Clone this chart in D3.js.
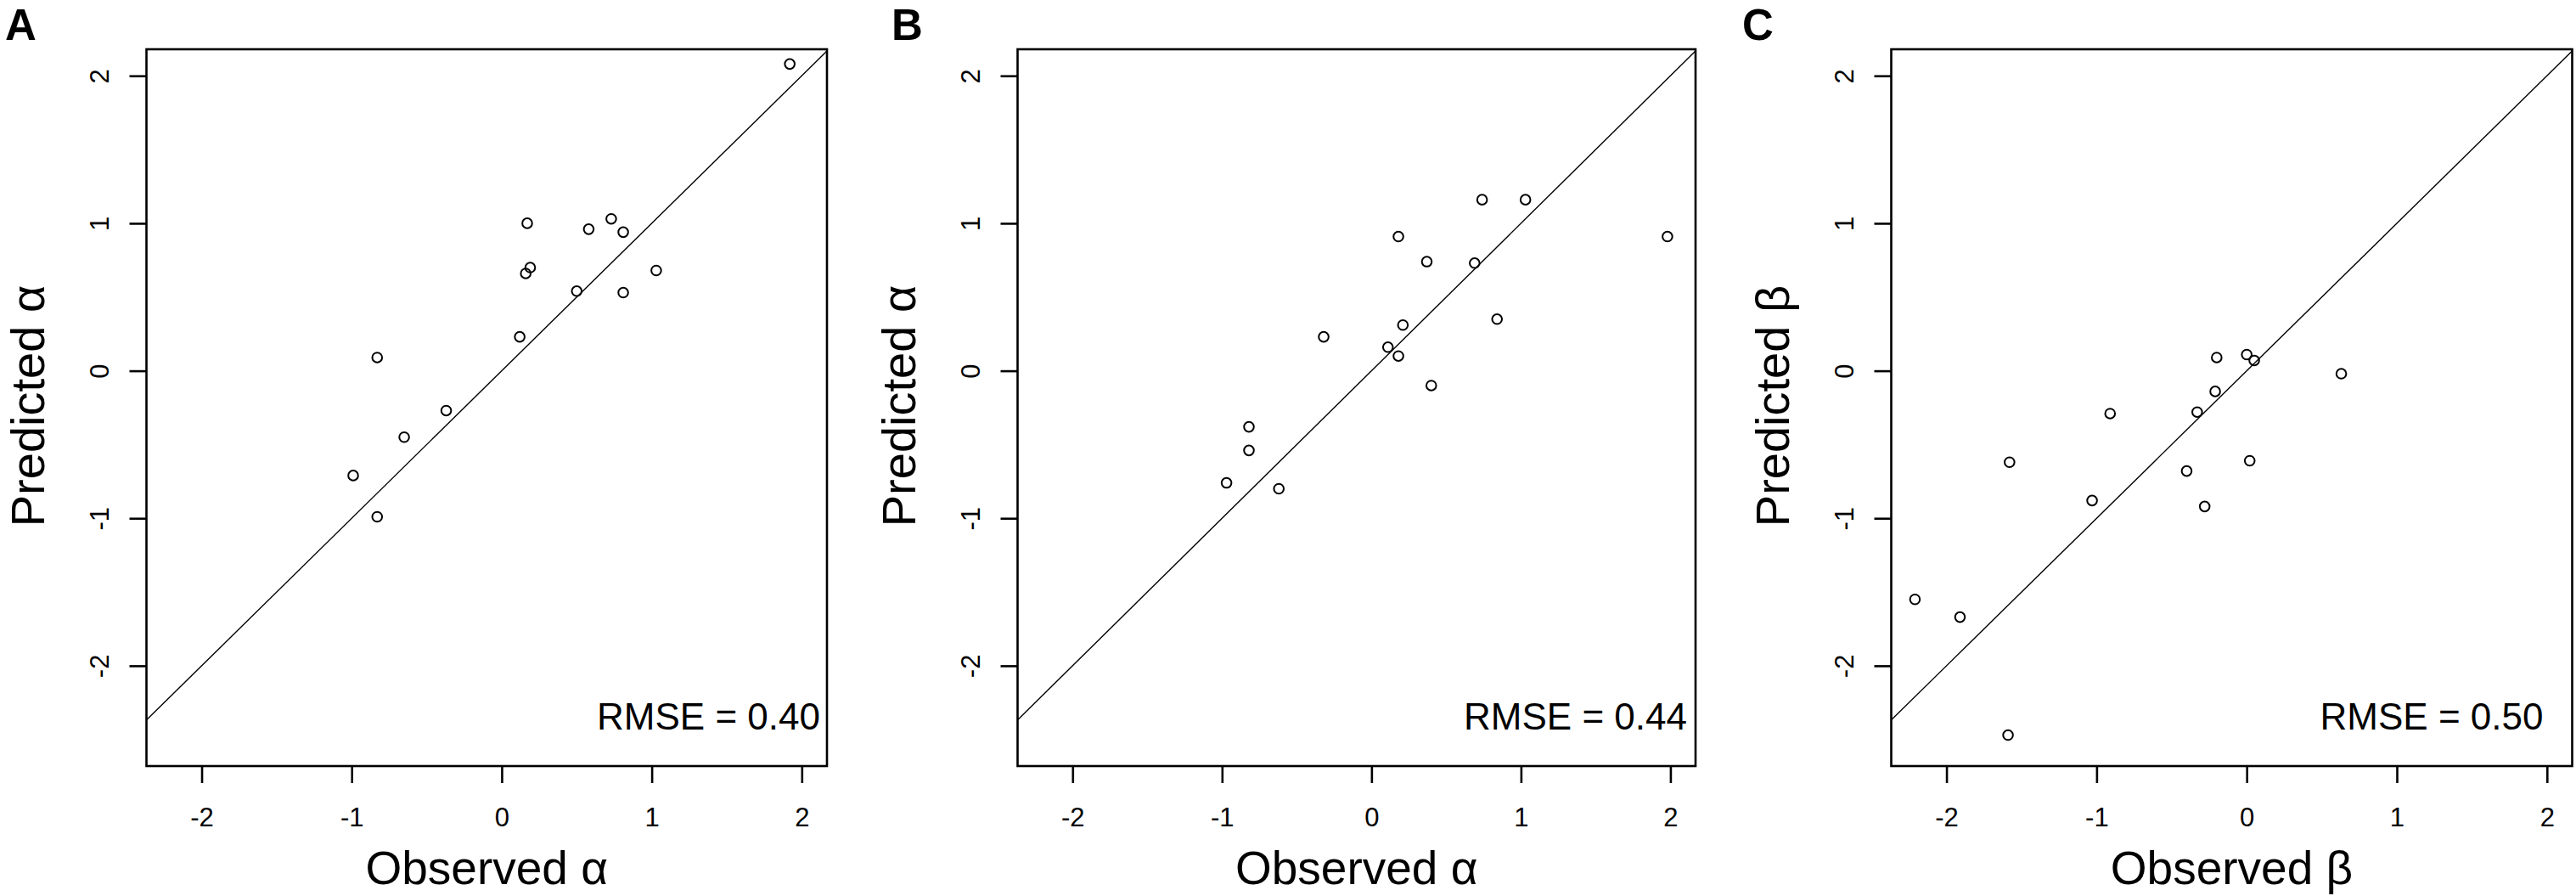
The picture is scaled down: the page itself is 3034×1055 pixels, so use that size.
<!DOCTYPE html>
<html><head><meta charset="utf-8">
<script src="https://cdn.jsdelivr.net/npm/d3@7"></script>
<style>html,body{margin:0;padding:0;background:#fff;} svg{display:block;}</style>
</head><body>
<svg id="chart" width="3034" height="1055"></svg>
<script>
// ---- data ----
const panelLabels = ["A", "B", "C"];
const xTitles = ["Observed α", "Observed α", "Observed β"];
const yTitles = ["Predicted α", "Predicted α", "Predicted β"];
const rmseLabels = ["RMSE = 0.40", "RMSE = 0.44", "RMSE = 0.50"];

const obsA  = [1.92, 0.17, 0.58, 0.73, 0.81, 0.16, 0.19, 1.03, 0.50, 0.81, 0.12, -0.83, -0.37, -0.65, -0.99, -0.83];
const predA = [2.08, 1.00, 0.96, 1.03, 0.94, 0.66, 0.70, 0.68, 0.54, 0.53, 0.23, 0.09, -0.27, -0.45, -0.71, -0.99];

const obsB  = [0.74, 1.03, 0.18, 1.98, 0.37, 0.69, 0.21, 0.84, -0.32, 0.11, 0.18, 0.40, -0.82, -0.82, -0.97, -0.62];
const predB = [1.16, 1.16, 0.91, 0.91, 0.74, 0.73, 0.31, 0.35, 0.23, 0.16, 0.10, -0.10, -0.38, -0.54, -0.76, -0.80];

const obsC  = [-0.20, 0.00, 0.05, 0.63, -0.21, -0.33, -0.91, -1.58, 0.02, -0.40, -1.03, -0.28, -2.21, -1.91, -1.59];
const predC = [0.09, 0.11, 0.07, -0.02, -0.14, -0.28, -0.29, -0.62, -0.61, -0.68, -0.88, -0.92, -1.55, -1.67, -2.47];

const xTicks = [-2, -1, 0, 1, 2];
const yTicks = [-2, -1, 0, 1, 2];
const xLimits = [-2.2, 2];
const yLimits = [-2.5, 2];

// ---- layout ----
const FONT = "'Liberation Sans', Arial, Helvetica, sans-serif";
const plotTop = 58, plotBottom = 902;
const layout = [
  { left: 172.5, right: 974,   labelX: 6,    rmseInset: 8 },
  { left: 1198.5, right: 1997, labelX: 1050, rmseInset: 10 },
  { left: 2227.5, right: 3029.5, labelX: 2052, rmseInset: 34 }
];
const seriesObs = [obsA, obsB, obsC];
const seriesPred = [predA, predB, predC];

// R style 4% axis extension
function extend(lim) { const d = (lim[1] - lim[0]) * 0.04; return [lim[0] - d, lim[1] + d]; }
const xDom = extend(xLimits), yDom = extend(yLimits);

const svg = d3.select("#chart");
svg.append("rect").attr("width", 3034).attr("height", 1055).attr("fill", "#fff");

layout.forEach((L, i) => {
  const x = d3.scaleLinear().domain(xDom).range([L.left, L.right]);
  const y = d3.scaleLinear().domain(yDom).range([plotBottom, plotTop]);
  const g = svg.append("g");

  // diagonal y = x, clipped to the plot region
  const t0 = Math.max(xDom[0], yDom[0]), t1 = Math.min(xDom[1], yDom[1]);
  g.append("line")
    .attr("x1", x(t0)).attr("y1", y(t0)).attr("x2", x(t1)).attr("y2", y(t1))
    .attr("stroke", "#000").attr("stroke-width", 1.4);

  // points
  const pts = seriesObs[i].map((o, k) => ({ o, p: seriesPred[i][k] }));
  g.selectAll("circle.pt").data(pts).enter().append("circle")
    .attr("class", "pt")
    .attr("cx", d => x(d.o)).attr("cy", d => y(d.p)).attr("r", 5.8)
    .attr("fill", "none").attr("stroke", "#000").attr("stroke-width", 2);

  // frame
  g.append("rect")
    .attr("x", L.left).attr("y", plotTop)
    .attr("width", L.right - L.left).attr("height", plotBottom - plotTop)
    .attr("fill", "none").attr("stroke", "#000").attr("stroke-width", 2.6);

  // x axis
  const xAxis = d3.axisBottom(x).tickValues(xTicks).tickSize(20).tickPadding(0).tickFormat(d3.format("d"));
  const gx = g.append("g").attr("transform", `translate(0,${plotBottom})`).call(xAxis);
  gx.select(".domain").remove();
  gx.selectAll(".tick line").attr("stroke", "#000").attr("stroke-width", 2.6);
  gx.selectAll(".tick text")
    .attr("y", 71).attr("dy", null)
    .attr("font-family", FONT).attr("font-size", 31).attr("fill", "#000")
    .text(d => d < 0 ? "-" + Math.abs(d) : String(d));

  // y axis
  const yAxis = d3.axisLeft(y).tickValues(yTicks).tickSize(20).tickPadding(0).tickFormat(d3.format("d"));
  const gy = g.append("g").attr("transform", `translate(${L.left},0)`).call(yAxis);
  gy.select(".domain").remove();
  gy.selectAll(".tick line").attr("stroke", "#000").attr("stroke-width", 2.6);
  gy.selectAll(".tick text")
    .attr("x", null).attr("dy", null)
    .attr("transform", "translate(-45,0) rotate(-90)")
    .attr("text-anchor", "middle")
    .attr("font-family", FONT).attr("font-size", 31).attr("fill", "#000")
    .text(d => d < 0 ? "-" + Math.abs(d) : String(d));

  // axis titles
  g.append("text")
    .attr("x", (L.left + L.right) / 2).attr("y", 1041)
    .attr("text-anchor", "middle")
    .attr("font-family", FONT).attr("font-size", 55).attr("fill", "#000")
    .text(xTitles[i]);
  g.append("text")
    .attr("transform", `translate(${L.left - 121},${(plotTop + plotBottom) / 2 - 2}) rotate(-90)`)
    .attr("text-anchor", "middle")
    .attr("font-family", FONT).attr("font-size", 56).attr("fill", "#000")
    .text(yTitles[i]);

  // RMSE annotation
  g.append("text")
    .attr("x", L.right - L.rmseInset).attr("y", 859)
    .attr("text-anchor", "end")
    .attr("font-family", FONT).attr("font-size", 44).attr("fill", "#000")
    .text(rmseLabels[i]);

  // panel label
  svg.append("text")
    .attr("x", L.labelX).attr("y", 47)
    .attr("font-family", FONT).attr("font-size", 51).attr("font-weight", "bold").attr("fill", "#000")
    .text(panelLabels[i]);
});
</script>
</body></html>
